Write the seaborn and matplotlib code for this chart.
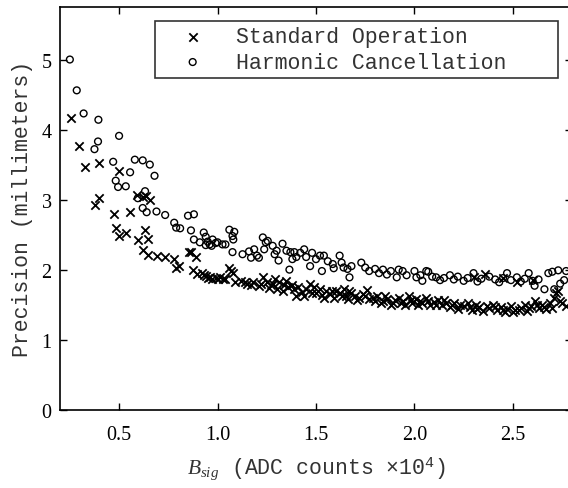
import matplotlib
matplotlib.use("Agg")
import matplotlib.pyplot as plt
import seaborn as sns

# Standard Operation (x markers); x in ADC counts x10^4, y in millimeters
std_x = [0.257, 0.297, 0.326, 0.398, 0.50, 0.398, 0.376, 0.475, 0.557, 0.593, 0.62, 0.639, 0.655,
         0.486, 0.50, 0.534, 0.632, 0.598, 0.649, 0.62, 0.645, 0.695, 0.734, 0.78, 0.79, 0.805,
         0.856, 0.865, 0.89, 0.897, 0.875, 0.92, 0.94, 0.95, 0.97, 0.99, 1.00, 1.03, 1.06, 1.07,
         1.09, 1.12, 1.14, 1.17, 1.18, 1.21, 1.23, 1.25, 1.27, 1.28, 1.30, 1.31, 1.33, 1.35, 1.36,
         1.38, 1.39, 1.40, 1.41, 1.43, 1.45, 1.47, 1.48, 1.50, 1.52, 1.53, 1.55, 1.57, 1.59, 1.60,
         1.62, 1.64, 1.65, 1.66, 1.68, 1.70, 1.72, 1.74, 1.76, 1.77, 1.79, 1.81, 1.83, 1.84, 1.86,
         1.88, 1.90, 1.92, 1.94, 1.95, 1.97, 1.99, 2.01, 2.03, 2.04, 2.06, 2.08, 2.10, 2.12, 2.14,
         2.16, 2.18, 2.20, 2.22, 2.25, 2.27, 2.29, 2.31, 2.33, 2.35, 2.36, 2.38, 2.40, 2.42, 2.44,
         2.46, 2.47, 2.49, 2.51, 2.52, 2.54, 2.56, 2.57, 2.59, 2.61, 2.63, 2.65, 2.67, 2.69, 2.71,
         2.72, 2.73, 2.75, 2.77, 2.30, 2.45, 2.60,
         0.93, 0.96, 1.01, 1.04, 1.08, 1.15, 1.22, 1.26, 1.29, 1.34, 1.44, 1.49, 1.54, 1.58, 1.63,
         1.67, 1.71, 1.75, 1.80, 1.85, 1.89, 1.93, 1.98, 2.02, 2.07, 2.11, 2.15, 2.19, 2.23, 2.28,
         2.32, 2.37, 2.41, 2.45, 2.50, 2.53, 2.58, 2.62, 2.66, 2.70, 2.74]
std_y = [4.16, 3.76, 3.47, 3.52, 3.41, 3.02, 2.92, 2.80, 2.82, 3.06, 3.03, 3.05, 3.00,
         2.59, 2.48, 2.52, 2.57, 2.42, 2.44, 2.28, 2.21, 2.20, 2.18, 2.15, 2.03, 2.05,
         2.25, 2.25, 2.18, 1.94, 2.00, 1.95, 1.91, 1.88, 1.86, 1.88, 1.86, 1.86, 2.03, 1.98,
         1.82, 1.84, 1.82, 1.78, 1.82, 1.76, 1.89, 1.83, 1.78, 1.79, 1.73, 1.83, 1.70, 1.84, 1.75,
         1.78, 1.72, 1.63, 1.75, 1.68, 1.72, 1.79, 1.66, 1.67, 1.72, 1.64, 1.70, 1.65, 1.60, 1.69,
         1.66, 1.72, 1.62, 1.58, 1.67, 1.63, 1.60, 1.65, 1.71, 1.58, 1.60, 1.63, 1.52, 1.55, 1.58,
         1.50, 1.56, 1.60, 1.55, 1.50, 1.63, 1.53, 1.58, 1.55, 1.53, 1.60, 1.50, 1.54, 1.56, 1.50,
         1.53, 1.47, 1.52, 1.44, 1.48, 1.52, 1.43, 1.49, 1.46, 1.41, 1.94, 1.45, 1.50, 1.42, 1.46,
         1.40, 1.44, 1.48, 1.42, 1.82, 1.45, 1.50, 1.41, 1.48, 1.55, 1.45, 1.50, 1.44, 1.52, 1.60,
         1.66, 1.70, 1.52, 1.48, 1.90, 1.88, 1.85,
         1.92, 1.90, 1.90, 1.87, 1.95, 1.79, 1.80, 1.74, 1.86, 1.78, 1.62, 1.75, 1.60, 1.70, 1.63,
         1.70, 1.57, 1.62, 1.55, 1.62, 1.53, 1.52, 1.57, 1.50, 1.55, 1.49, 1.56, 1.50, 1.49, 1.46,
         1.44, 1.48, 1.46, 1.43, 1.40, 1.43, 1.45, 1.50, 1.47, 1.45, 1.55]

# Harmonic Cancellation (o markers)
hc_x = [0.25, 0.285, 0.32, 0.395, 0.50, 0.393, 0.375, 0.47, 0.58, 0.62, 0.656, 0.556, 0.68, 0.483,
        0.495, 0.534, 0.632, 0.595, 0.62, 0.64, 0.69, 0.734, 0.78, 0.79, 0.81, 0.85, 0.88, 0.865,
        0.88, 0.93, 0.94, 0.94, 0.95, 0.975, 0.99, 1.0, 1.025, 1.04, 1.06, 1.085, 1.076, 1.08,
        1.076, 1.127, 1.16, 1.186, 1.17, 1.20, 1.21, 1.23, 1.245, 1.255, 1.237, 1.28, 1.30, 1.29,
        1.31, 1.33, 1.35, 1.365, 1.37, 1.39, 1.38, 1.40, 1.42, 1.44, 1.45, 1.47, 1.48, 1.50, 1.52,
        1.53, 1.54, 1.56, 1.585, 1.59, 1.62, 1.63, 1.64, 1.66, 1.67, 1.68, 1.73, 1.75, 1.77, 1.80,
        1.82, 1.84, 1.86, 1.88, 1.91, 1.92, 1.94, 1.96, 2.00, 2.01, 2.03, 2.04, 2.06, 2.07, 2.09,
        2.11, 2.13, 2.15, 2.18, 2.20, 2.22, 2.25, 2.27, 2.30, 2.32, 2.34, 2.38, 2.41, 2.43, 2.45,
        2.47, 2.49, 2.52, 2.54, 2.56, 2.58, 2.60, 2.61, 2.63, 2.66, 2.68, 2.70, 2.71, 2.73, 2.74,
        2.76, 2.77, 0.91, 0.96, 0.97]
hc_y = [5.00, 4.56, 4.23, 4.14, 3.91, 3.83, 3.72, 3.54, 3.57, 3.56, 3.50, 3.39, 3.34, 3.27,
        3.18, 3.19, 3.12, 3.02, 2.88, 2.82, 2.83, 2.78, 2.67, 2.60, 2.59, 2.77, 2.79, 2.56,
        2.43, 2.53, 2.47, 2.35, 2.40, 2.43, 2.38, 2.39, 2.36, 2.36, 2.57, 2.54, 2.48, 2.43,
        2.25, 2.22, 2.26, 2.29, 2.17, 2.20, 2.17, 2.46, 2.39, 2.41, 2.29, 2.34, 2.27, 2.22,
        2.13, 2.37, 2.27, 2.00, 2.25, 2.25, 2.15, 2.18, 2.24, 2.29, 2.18, 2.05, 2.24, 2.15, 2.20,
        1.98, 2.20, 2.12, 2.08, 2.02, 2.20, 2.10, 2.03, 2.01, 1.89, 2.05, 2.10, 2.03, 1.98, 2.01,
        1.95, 2.00, 1.93, 1.98, 1.89, 2.00, 1.98, 1.92, 1.98, 1.89, 1.92, 1.84, 1.98, 1.97, 1.90,
        1.89, 1.85, 1.88, 1.92, 1.86, 1.90, 1.84, 1.88, 1.95, 1.83, 1.87, 1.90, 1.86, 1.82, 1.88,
        1.95, 1.85, 1.89, 1.83, 1.87, 1.95, 1.84, 1.77, 1.86, 1.72, 1.95, 1.97, 1.72, 1.99, 1.80,
        1.85, 1.98, 2.39, 2.36, 2.34]

labels = ["Standard Operation", "Harmonic Cancellation"]
x_ticks = [0.5, 1.0, 1.5, 2.0, 2.5]
x_tick_labels = ["0.5", "1.0", "1.5", "2.0", "2.5"]
y_ticks = [0, 1, 2, 3, 4, 5]

sns.set_style("ticks")
plt.rcParams["font.family"] = ["Liberation Mono", "DejaVu Sans"]
plt.rcParams["mathtext.fontset"] = "custom"
plt.rcParams["mathtext.it"] = "Liberation Serif:italic"
plt.rcParams["mathtext.rm"] = "Liberation Mono"

W, H = 568, 489
fig = plt.figure(figsize=(W / 100, H / 100), dpi=100)
ax = fig.add_axes([60 / W, 1 - 410.7 / H, 512 / W, 402.7 / H])

sns.scatterplot(x=std_x, y=std_y, marker="x", color="black", s=36, linewidth=1.3, ax=ax,
                label=labels[0])
sns.scatterplot(x=hc_x, y=hc_y, marker="o", color="black", edgecolor="black", s=24,
                linewidth=1.0, ax=ax, label=labels[1])
circ = ax.collections[1]
circ.set_facecolor("none")
circ.set_edgecolor("black")

ax.set_xlim(0.2, 2.8)
ax.set_ylim(0, 5.75)
ax.set_xticks(x_ticks)
ax.set_xticklabels(x_tick_labels)
ax.set_yticks(y_ticks)
ax.tick_params(direction="in", length=5, width=1, top=True, right=True, colors="black",
               labelsize=14.5)
ax.tick_params(axis="x", pad=11)
ax.tick_params(axis="y", pad=6)
for lab in ax.get_xticklabels() + ax.get_yticklabels():
    lab.set_fontfamily("Liberation Serif")
for sp in ax.spines.values():
    sp.set_visible(True)
    sp.set_linewidth(1.2)
    sp.set_color("black")

ax.set_ylabel("Precision (millimeters)", fontsize=15.5, color="#333333")
ax.yaxis.set_label_coords(-0.053, 0.5)
ax.set_xlabel(r"$B_{\mathit{sig}}$ (ADC counts ×10$^{4}$)", fontsize=15.5, color="#333333")
ax.xaxis.set_label_coords(0.5, -0.11)
ax.xaxis.label.set_math_fontfamily("custom")

leg = ax.legend(loc="upper left", bbox_to_anchor=(155 / W, 1 - 79 / H, 403 / W, 57 / H),
                bbox_transform=fig.transFigure, mode="expand", borderaxespad=0,
                fancybox=False, frameon=True, borderpad=0.25,
                handlelength=3.0, handletextpad=0.5, labelspacing=0.2,
                prop={"family": "Liberation Mono", "size": 15.5})
leg.get_frame().set_edgecolor("black")
leg.get_frame().set_linewidth(1.2)
for t in leg.get_texts():
    t.set_color("#333333")

fig.savefig("out.png", dpi=100)
